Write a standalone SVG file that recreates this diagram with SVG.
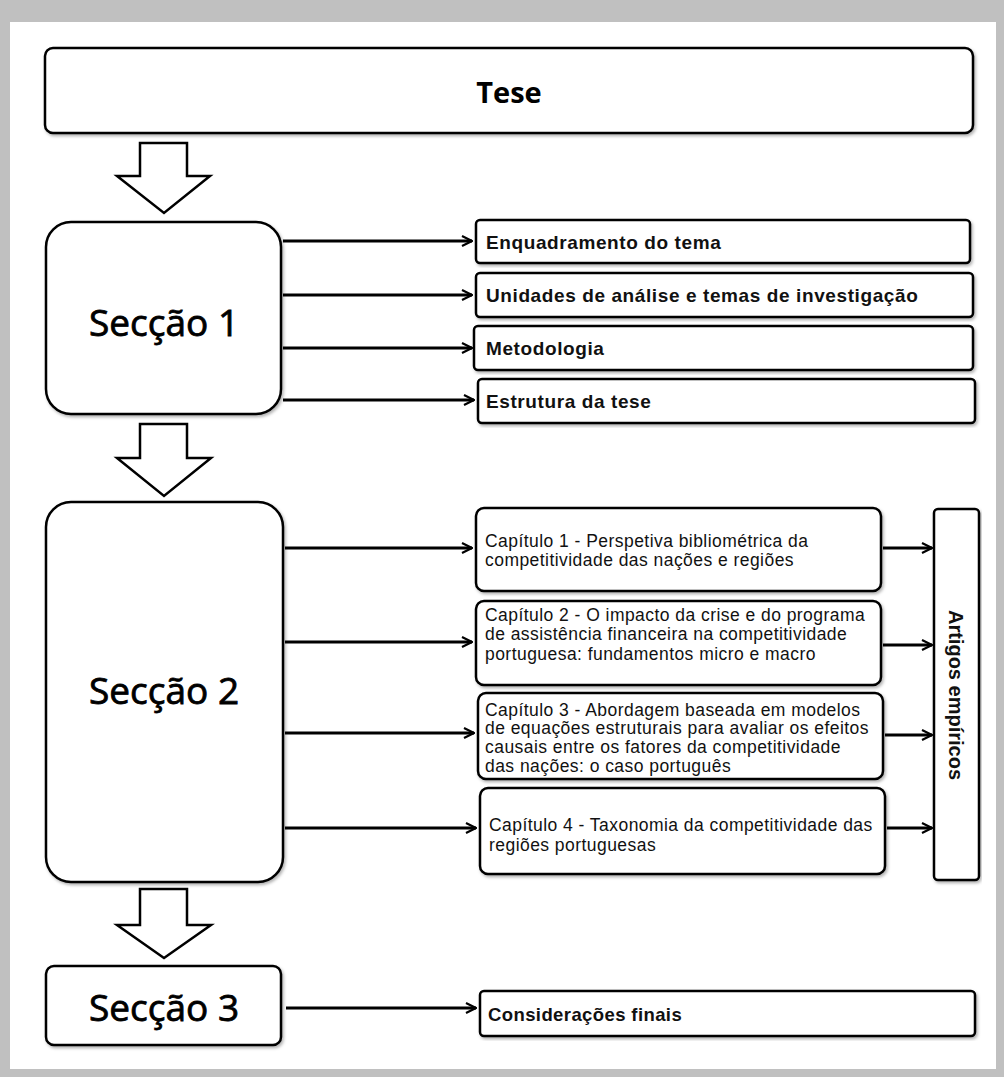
<svg xmlns="http://www.w3.org/2000/svg" width="1004" height="1077" viewBox="0 0 1004 1077">
<defs>
<marker id="ah" viewBox="0 0 12 12" refX="11" refY="6" markerWidth="12" markerHeight="12" markerUnits="userSpaceOnUse" orient="auto">
<path d="M1,1 L11,6 L1,11" fill="none" stroke="#000" stroke-width="2.2"/>
</marker>
<filter id="sh" x="-5%" y="-5%" width="110%" height="115%">
<feDropShadow dx="1.5" dy="2" stdDeviation="1.5" flood-color="#000" flood-opacity="0.3"/>
</filter>
</defs>
<style>
.box{fill:#fff;stroke:#000;stroke-width:2.5;filter:url(#sh)}
.barrow{fill:#fff;stroke:#000;stroke-width:2.5;stroke-linejoin:miter}
.con{stroke:#000;stroke-width:3;fill:none;marker-end:url(#ah)}
.sec{font-family:"Open Sans","Noto Sans",sans-serif;font-weight:normal;font-size:37px;stroke:#000;stroke-width:0.8px;text-anchor:middle;dominant-baseline:central;fill:#000}
.item{font-family:"Liberation Sans",Arial,sans-serif;font-weight:bold;font-size:19px;letter-spacing:0.6px;fill:#111}
.chap{font-family:"Liberation Sans",Arial,sans-serif;font-size:17.5px;letter-spacing:0.45px;fill:#111}
</style>
<rect x="0" y="0" width="1004" height="1077" fill="#c0c0c0"/>
<rect x="10" y="22" width="986" height="1047" fill="#fff"/>

<g id="tese">
<rect class="box" x="45" y="48" width="928" height="85" rx="8"/>
<text x="509" y="91" font-family="Open Sans,Noto Sans,sans-serif" font-weight="bold" font-size="29" text-anchor="middle" dominant-baseline="central">Tese</text>
</g>

<g id="block-arrows">
<path class="barrow" d="M140,143 H187 V176 H210 L164,213 L117,176 H140 Z"/>
<path class="barrow" d="M140,424 H187 V458 H211 L164,496 L117,458 H140 Z"/>
<path class="barrow" d="M140,889 H187 V925 H211 L164,958 L117,925 H140 Z"/>
</g>

<g id="seccao1">
<rect class="box" x="46" y="222" width="235" height="192" rx="25"/>
<text class="sec" x="164" y="321">Secção 1</text>
</g>

<g id="enquadramento">
<rect class="box" x="476" y="220" width="494" height="43" rx="4"/>
<text class="item" x="486" y="249">Enquadramento do tema</text>
</g>
<g id="unidades">
<rect class="box" x="476" y="273" width="497" height="44" rx="4"/>
<text class="item" x="486" y="302">Unidades de análise  e temas de investigação</text>
</g>
<g id="metodologia">
<rect class="box" x="474" y="326" width="499" height="44" rx="4"/>
<text class="item" x="486" y="355">Metodologia</text>
</g>
<g id="estrutura">
<rect class="box" x="478" y="379" width="497" height="44" rx="4"/>
<text class="item" x="486" y="408">Estrutura da tese</text>
</g>

<g id="seccao2">
<rect class="box" x="46" y="502" width="237" height="380" rx="25"/>
<text class="sec" x="164" y="689">Secção 2</text>
</g>

<g id="cap1">
<rect class="box" x="476" y="508" width="405" height="83" rx="8"/>
<text class="chap" x="485" y="547">Capítulo 1 - Perspetiva bibliométrica da</text>
<text class="chap" x="485" y="566">competitividade das nações e regiões</text>
</g>
<g id="cap2">
<rect class="box" x="476" y="601" width="405" height="84" rx="8"/>
<text class="chap" x="485" y="621">Capítulo 2 - O impacto da crise e do programa</text>
<text class="chap" x="485" y="640">de assistência financeira na competitividade</text>
<text class="chap" x="485" y="660">portuguesa: fundamentos micro e macro</text>
</g>
<g id="cap3">
<rect class="box" x="478" y="693" width="405" height="86" rx="8"/>
<text class="chap" x="485" y="716">Capítulo 3 - Abordagem baseada em modelos</text>
<text class="chap" x="485" y="734">de equações estruturais para avaliar os efeitos</text>
<text class="chap" x="485" y="753">causais entre os fatores da competitividade</text>
<text class="chap" x="485" y="772">das nações: o caso português</text>
</g>
<g id="cap4">
<rect class="box" x="480" y="788" width="405" height="86" rx="8"/>
<text class="chap" x="489" y="831">Capítulo 4 - Taxonomia da competitividade das</text>
<text class="chap" x="489" y="851">regiões portuguesas</text>
</g>

<g id="artigos">
<rect class="box" x="934" y="509" width="45" height="371" rx="4"/>
<text x="956" y="695" transform="rotate(90 956 695)" font-family="Liberation Sans,Arial,sans-serif" font-weight="bold" font-size="20" text-anchor="middle" dominant-baseline="central" fill="#111">Artigos empíricos</text>
</g>

<g id="seccao3">
<rect class="box" x="46" y="966" width="235" height="79" rx="8"/>
<text class="sec" x="164" y="1006">Secção 3</text>
</g>
<g id="consideracoes">
<rect class="box" x="480" y="991" width="495" height="45" rx="4"/>
<text x="488" y="1021" font-family="Liberation Sans,Arial,sans-serif" font-weight="bold" font-size="18.5" letter-spacing="0.4" fill="#111">Considerações finais</text>
</g>

<g id="connectors">
<line class="con" x1="283" y1="241" x2="472" y2="241"/>
<line class="con" x1="283" y1="295" x2="472" y2="295"/>
<line class="con" x1="283" y1="348" x2="472" y2="348"/>
<line class="con" x1="283" y1="400" x2="474" y2="400"/>
<line class="con" x1="285" y1="548" x2="472" y2="548"/>
<line class="con" x1="285" y1="642" x2="472" y2="642"/>
<line class="con" x1="285" y1="733" x2="474" y2="733"/>
<line class="con" x1="285" y1="828" x2="476" y2="828"/>
<line class="con" x1="883" y1="548" x2="932" y2="548"/>
<line class="con" x1="883" y1="645" x2="932" y2="645"/>
<line class="con" x1="885" y1="735" x2="932" y2="735"/>
<line class="con" x1="887" y1="828" x2="932" y2="828"/>
<line class="con" x1="286" y1="1008" x2="476" y2="1008"/>
</g>
</svg>
